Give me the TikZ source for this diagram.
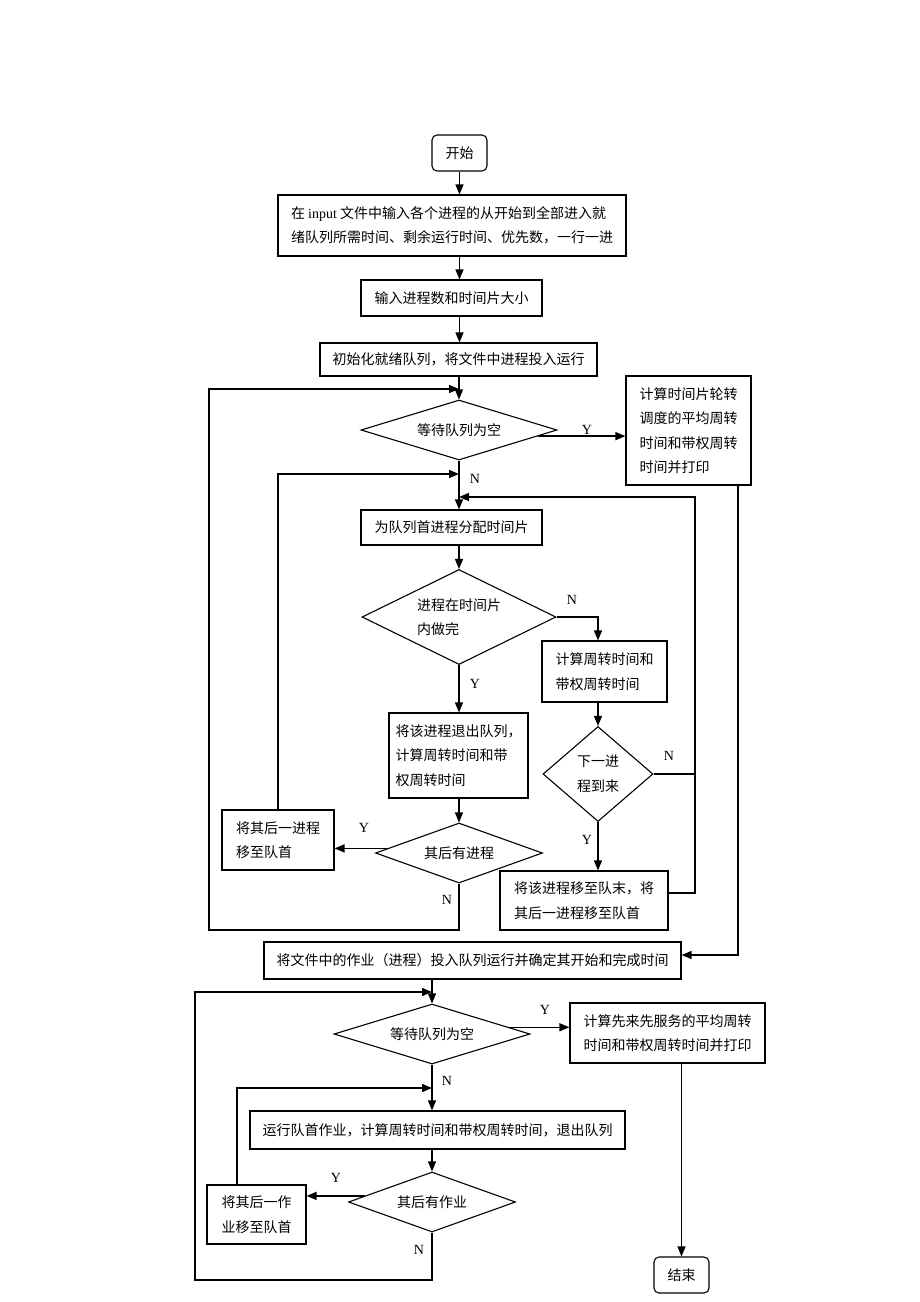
\documentclass[tikz,border=0pt]{standalone}
\usepackage{fontspec}
\setmainfont{Liberation Serif}
\newfontfamily\cjk{Noto Sans CJK SC}
\usetikzlibrary{shapes.geometric,arrows.meta,calc}
\begin{document}
\begin{tikzpicture}[x=1pt,y=-1pt,
  every node/.style={font=\cjk\fontsize{14}{24.5}\selectfont},
  box/.style={draw, line width=1.1pt, rectangle, inner sep=0pt, align=left},
  term/.style={box, rounded corners=5pt},
  dia/.style={draw, line width=1.1pt, diamond, inner sep=0pt, align=left},
  arr/.style={line width=1.3pt, -{Triangle[length=10pt,width=8pt]}},
  ln/.style={line width=1.3pt},
  lbl/.style={font=\rmfamily\fontsize{14}{14}\selectfont, inner sep=0pt}]
\useasboundingbox[fill=white] (0,0) rectangle (920,1302);

% ---- nodes ----
\node[term, minimum width=55pt, minimum height=36pt] (start) at (459.5,153) {开始};
\node[box, minimum width=348pt, minimum height=61pt] (b1) at (452,225.5)
  {在 {\rmfamily input} 文件中输入各个进程的从开始到全部进入就\\绪队列所需时间、剩余运行时间、优先数，一行一进};
\node[box, minimum width=181pt, minimum height=36pt] (b2) at (451.5,298) {输入进程数和时间片大小};
\node[box, minimum width=277pt, minimum height=33pt] (b3) at (458.5,359.5) {初始化就绪队列，将文件中进程投入运行};
\node[dia, minimum width=196pt, minimum height=60pt, aspect=3.27] (d1) at (459,430) {等待队列为空};
\node[box, minimum width=125pt, minimum height=109pt] (r1) at (688.5,430.5)
  {计算时间片轮转\\调度的平均周转\\时间和带权周转\\时间并打印};
\node[box, minimum width=181pt, minimum height=35pt] (b4) at (451.5,527.5) {为队列首进程分配时间片};
\node[dia, minimum width=194pt, minimum height=95pt, aspect=2.04] (d2) at (459,617) {进程在时间片\\内做完};
\node[box, minimum width=125pt, minimum height=61pt] (r2a) at (604.5,671.5) {计算周转时间和\\带权周转时间};
\node[dia, minimum width=110pt, minimum height=95pt, aspect=1.16] (d3) at (598,774) {下一进\\程到来};
\node[box, minimum width=168pt, minimum height=59pt] (bT) at (584,900.5) {将该进程移至队末，将\\其后一进程移至队首};
\node[box, minimum width=139pt, minimum height=85pt] (bX) at (458.5,755.5) {将该进程退出队列，\\计算周转时间和带\\权周转时间};
\node[dia, minimum width=167pt, minimum height=60pt, aspect=2.78] (d4) at (459,853) {其后有进程};
\node[box, minimum width=112pt, minimum height=60pt] (bY) at (278,840) {将其后一进程\\移至队首};
\node[box, minimum width=417pt, minimum height=37pt] (b5) at (472.5,960.5) {将文件中的作业（进程）投入队列运行并确定其开始和完成时间};
\node[dia, minimum width=196pt, minimum height=60pt, aspect=3.27] (d5) at (432,1034) {等待队列为空};
\node[box, minimum width=195pt, minimum height=60pt] (r3) at (667.5,1033) {计算先来先服务的平均周转\\时间和带权周转时间并打印};
\node[box, minimum width=375pt, minimum height=38pt] (b6) at (437.5,1130) {运行队首作业，计算周转时间和带权周转时间，退出队列};
\node[dia, minimum width=167pt, minimum height=60pt, aspect=2.78] (d6) at (432,1202) {其后有作业};
\node[box, minimum width=99pt, minimum height=59pt] (bY2) at (256.5,1214.5) {将其后一作\\业移至队首};
\node[term, minimum width=55pt, minimum height=36pt] (end) at (681.5,1275) {结束};

% ---- helper coordinates ----
\coordinate (j1) at (459,389);
\coordinate (j2) at (459,474);
\coordinate (j3) at (459,497);
\coordinate (lp1) at (209,930);
\coordinate (rj) at (695,893);
\coordinate (rx) at (738,955);
\coordinate (j4) at (432,992);
\coordinate (lp2) at (195,1280);
\coordinate (ly2) at (237,1088);
\coordinate (d1y) at ($(d1.east)!0.2!(d1.south)$);
\coordinate (d4y) at ($(d4.west)!0.15!(d4.north)$);
\coordinate (d5y) at ($(d5.east)!0.22!(d5.north)$);
\coordinate (d6y) at ($(d6.west)!0.2!(d6.north)$);

% ---- connectors ----
\draw[arr] (start.south) -- (start.south |- b1.north);
\draw[arr] (b1.south -| start.south) -- (b2.north -| start.south);
\draw[arr] (b2.south -| start.south) -- (b3.north -| start.south);
\draw[arr] (b3.south -| d1.north) -- (d1.north);
\draw[arr] (d1y) -- (d1y -| r1.west);
\draw[arr] (d1.south) -- (b4.north -| d1.south);
\draw[arr] (b4.south -| d2.north) -- (d2.north);
\draw[arr] (d2.east) -| (r2a.north -| d3.north);
\draw[arr] (r2a.south -| d3.north) -- (d3.north);
\draw[arr] (d3.south) -- (d3.south |- bT.north);
\draw[ln] (d3.east) -- (d3.east -| rj);
\draw[arr] (bT.east |- rj) -- (rj) |- (j3);
\draw[arr] (d2.south) -- (bX.north -| d2.south);
\draw[arr] (bX.south -| d4.north) -- (d4.north);
\draw[arr] (d4y) -- (d4y -| bY.east);
\draw[arr] (bY.north) |- (j2);
\draw[arr] (d4.south) |- (lp1) |- (j1);
\draw[arr] (r1.south -| rx) |- (b5.east |- rx);
\draw[arr] (b5.south -| d5.north) -- (d5.north);
\draw[arr] (d5y) -- (d5y -| r3.west);
\draw[arr] (r3.south -| end.north) -- (end.north);
\draw[arr] (d5.south) -- (b6.north -| d5.south);
\draw[arr] (b6.south -| d6.north) -- (d6.north);
\draw[arr] (d6y) -- (d6y -| bY2.east);
\draw[arr] (bY2.north -| ly2) |- (ly2 -| d5.south);
\draw[arr] (d6.south) |- (lp2) |- (j4);

% ---- labels ----
\node[lbl] (ly1) at (587,430) {Y};
\node[lbl] (ln1) at (475,479) {N};
\node[lbl] (ln2) at (572,600) {N};
\node[lbl] (ly3) at (475,684) {Y};
\node[lbl] (ln3) at (669,756) {N};
\node[lbl] (ly4) at (587,840) {Y};
\node[lbl] (ly5) at (364,828) {Y};
\node[lbl] (ln4) at (447,900) {N};
\node[lbl] (ly6) at (545,1010) {Y};
\node[lbl] (ln5) at (447,1081) {N};
\node[lbl] (ly7) at (336,1178) {Y};
\node[lbl] (ln6) at (419,1250) {N};
\end{tikzpicture}
\end{document}
